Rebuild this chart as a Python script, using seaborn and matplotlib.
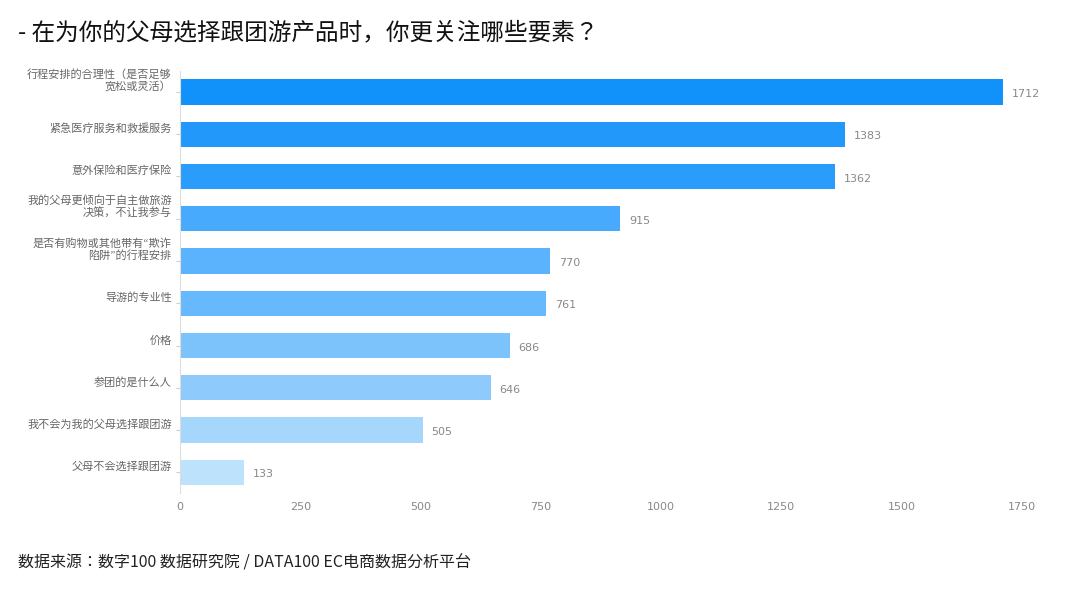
import matplotlib
matplotlib.use("Agg")
import matplotlib.pyplot as plt
from matplotlib import font_manager
import seaborn as sns
import pandas as pd

cjk = [f.name for f in font_manager.fontManager.ttflist if "CJK" in f.name]
cjk_name = "Noto Sans CJK SC" if "Noto Sans CJK SC" in cjk else (cjk[0] if cjk else "DejaVu Sans")
plt.rcParams["font.family"] = [cjk_name, "DejaVu Sans"]

categories = [
    "行程安排的合理性（是否足够\n宽松或灵活）",
    "紧急医疗服务和救援服务",
    "意外保险和医疗保险",
    "我的父母更倾向于自主做旅游\n决策，不让我参与",
    "是否有购物或其他带有“欺诈\n陷阱”的行程安排",
    "导游的专业性",
    "价格",
    "参团的是什么人",
    "我不会为我的父母选择跟团游",
    "父母不会选择跟团游",
]
values = [1712, 1383, 1362, 915, 770, 761, 686, 646, 505, 133]
colors = ["#1192fb", "#2298fb", "#2a9cfb", "#47aafc", "#5ab3fc",
          "#66b9fc", "#7cc3fc", "#8ecbfc", "#a5d6fc", "#bde2fc"]

df = pd.DataFrame({"cat": categories, "val": values})

fig = plt.figure(figsize=(10.8, 5.9), dpi=100)
ax = fig.add_axes([0.1667, 0.1637, 0.7793, 0.7163])
sns.barplot(data=df, y="cat", x="val", hue="cat", palette=colors,
            legend=False, width=0.6, ax=ax, saturation=1)

for i, v in enumerate(values):
    ax.text(v + 18, i + 0.05, str(v), va="center", ha="left", fontsize=8,
            color="#888888", family="DejaVu Sans")

ax.set_xlim(0, 1750)
ax.set_xticks([0, 250, 500, 750, 1000, 1250, 1500, 1750])
ax.set_xlabel("")
ax.set_ylabel("")
ax.tick_params(axis="x", length=0, labelsize=8, labelcolor="#888888", pad=6)
ax.tick_params(axis="y", length=3, color="#cccccc", labelsize=8, labelcolor="#666666", pad=3)
for lab in ax.get_xticklabels():
    lab.set_family("DejaVu Sans")
for lab in ax.get_yticklabels():
    lab.set_verticalalignment("bottom")
    lab.set_multialignment("right")
for s in ["top", "right", "bottom"]:
    ax.spines[s].set_visible(False)
ax.spines["left"].set_color("#dddddd")

fig.text(0.017, 0.945, "- 在为你的父母选择跟团游产品时，你更关注哪些要素？", fontsize=17, color="#111111", va="center")
fig.text(0.017, 0.045, "数据来源：数字100 数据研究院 / DATA100 EC电商数据分析平台", fontsize=11.5, color="#222222", va="center")

fig.savefig("out.png", dpi=100)
